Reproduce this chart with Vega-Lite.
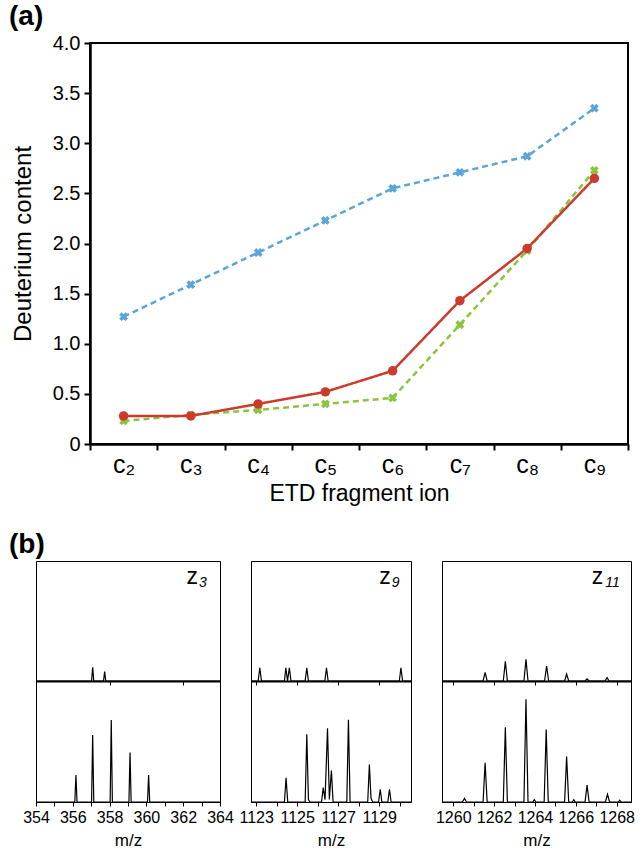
{
  "$schema": "https://vega.github.io/schema/vega-lite/v6.json",
  "padding": {"left": 8, "top": 2, "right": 5, "bottom": 5},
  "background": "white",
  "config": {
    "font": "Liberation Sans",
    "axis": {"grid": false, "labelColor": "black", "titleColor": "black", "domainColor": "black", "tickColor": "black", "labelFont": "Liberation Sans", "titleFont": "Liberation Sans", "titleFontWeight": "normal"},
    "title": {"font": "Liberation Sans", "color": "black"},
    "view": {"stroke": "black"}
  },
  "datasets": {
    "deut": [
      {"ion": "c₂", "series": "s1", "value": 1.27}, {"ion": "c₃", "series": "s1", "value": 1.59}, {"ion": "c₄", "series": "s1", "value": 1.91}, {"ion": "c₅", "series": "s1", "value": 2.23}, {"ion": "c₆", "series": "s1", "value": 2.55}, {"ion": "c₇", "series": "s1", "value": 2.71}, {"ion": "c₈", "series": "s1", "value": 2.87}, {"ion": "c₉", "series": "s1", "value": 3.35},
      {"ion": "c₂", "series": "s2", "value": 0.23}, {"ion": "c₃", "series": "s2", "value": 0.29}, {"ion": "c₄", "series": "s2", "value": 0.34}, {"ion": "c₅", "series": "s2", "value": 0.40}, {"ion": "c₆", "series": "s2", "value": 0.46}, {"ion": "c₇", "series": "s2", "value": 1.19}, {"ion": "c₈", "series": "s2", "value": 1.93}, {"ion": "c₉", "series": "s2", "value": 2.73},
      {"ion": "c₂", "series": "s3", "value": 0.28}, {"ion": "c₃", "series": "s3", "value": 0.28}, {"ion": "c₄", "series": "s3", "value": 0.40}, {"ion": "c₅", "series": "s3", "value": 0.52}, {"ion": "c₆", "series": "s3", "value": 0.73}, {"ion": "c₇", "series": "s3", "value": 1.43}, {"ion": "c₈", "series": "s3", "value": 1.95}, {"ion": "c₉", "series": "s3", "value": 2.65}
    ],
    "z3top": [
      {"mz": 354, "i": 0}, {"mz": 357.02, "i": 0}, {"mz": 357.08, "i": 0.114}, {"mz": 357.14, "i": 0}, {"mz": 357.67, "i": 0}, {"mz": 357.73, "i": 0.078}, {"mz": 357.79, "i": 0}, {"mz": 364, "i": 0}
    ],
    "z3bot": [
      {"mz": 354, "i": 0},
      {"mz": 356.11, "i": 0}, {"mz": 356.17, "i": 0.223}, {"mz": 356.23, "i": 0},
      {"mz": 357.02, "i": 0}, {"mz": 357.08, "i": 0.554}, {"mz": 357.14, "i": 0},
      {"mz": 358.03, "i": 0}, {"mz": 358.09, "i": 0.678}, {"mz": 358.15, "i": 0},
      {"mz": 359.05, "i": 0}, {"mz": 359.11, "i": 0.41}, {"mz": 359.17, "i": 0},
      {"mz": 360.06, "i": 0}, {"mz": 360.12, "i": 0.223}, {"mz": 360.18, "i": 0},
      {"mz": 364, "i": 0}
    ],
    "z9top": [
      {"mz": 1122.75, "i": 0},
      {"mz": 1123.1, "i": 0}, {"mz": 1123.18, "i": 0.11}, {"mz": 1123.26, "i": 0},
      {"mz": 1124.38, "i": 0}, {"mz": 1124.45, "i": 0.11}, {"mz": 1124.53, "i": 0}, {"mz": 1124.62, "i": 0.11}, {"mz": 1124.7, "i": 0},
      {"mz": 1125.39, "i": 0}, {"mz": 1125.47, "i": 0.11}, {"mz": 1125.55, "i": 0},
      {"mz": 1126.35, "i": 0}, {"mz": 1126.43, "i": 0.11}, {"mz": 1126.51, "i": 0},
      {"mz": 1129.98, "i": 0}, {"mz": 1130.06, "i": 0.11}, {"mz": 1130.14, "i": 0},
      {"mz": 1130.55, "i": 0}
    ],
    "z9bot": [
      {"mz": 1122.75, "i": 0},
      {"mz": 1124.38, "i": 0}, {"mz": 1124.46, "i": 0.2}, {"mz": 1124.54, "i": 0},
      {"mz": 1125.39, "i": 0}, {"mz": 1125.47, "i": 0.56}, {"mz": 1125.55, "i": 0.02}, {"mz": 1125.62, "i": 0},
      {"mz": 1126.19, "i": 0}, {"mz": 1126.27, "i": 0.12}, {"mz": 1126.36, "i": 0.02},
      {"mz": 1126.48, "i": 0.61}, {"mz": 1126.57, "i": 0.02}, {"mz": 1126.67, "i": 0.26}, {"mz": 1126.75, "i": 0},
      {"mz": 1127.42, "i": 0}, {"mz": 1127.5, "i": 0.68}, {"mz": 1127.58, "i": 0},
      {"mz": 1128.44, "i": 0}, {"mz": 1128.52, "i": 0.31}, {"mz": 1128.6, "i": 0.03}, {"mz": 1128.68, "i": 0},
      {"mz": 1128.97, "i": 0}, {"mz": 1129.05, "i": 0.105}, {"mz": 1129.13, "i": 0},
      {"mz": 1129.42, "i": 0}, {"mz": 1129.5, "i": 0.105}, {"mz": 1129.58, "i": 0},
      {"mz": 1130.55, "i": 0}
    ],
    "z11top": [
      {"mz": 1259.45, "i": 0},
      {"mz": 1261.46, "i": 0}, {"mz": 1261.56, "i": 0.072}, {"mz": 1261.66, "i": 0},
      {"mz": 1262.45, "i": 0}, {"mz": 1262.55, "i": 0.164}, {"mz": 1262.65, "i": 0},
      {"mz": 1263.46, "i": 0}, {"mz": 1263.56, "i": 0.18}, {"mz": 1263.66, "i": 0},
      {"mz": 1264.47, "i": 0}, {"mz": 1264.57, "i": 0.125}, {"mz": 1264.67, "i": 0},
      {"mz": 1265.45, "i": 0}, {"mz": 1265.55, "i": 0.058}, {"mz": 1265.65, "i": 0},
      {"mz": 1266.45, "i": 0}, {"mz": 1266.55, "i": 0.017}, {"mz": 1266.65, "i": 0},
      {"mz": 1267.43, "i": 0}, {"mz": 1267.53, "i": 0.028}, {"mz": 1267.63, "i": 0},
      {"mz": 1268.7, "i": 0}
    ],
    "z11bot": [
      {"mz": 1259.45, "i": 0},
      {"mz": 1260.45, "i": 0}, {"mz": 1260.55, "i": 0.03}, {"mz": 1260.65, "i": 0},
      {"mz": 1261.46, "i": 0}, {"mz": 1261.56, "i": 0.325}, {"mz": 1261.66, "i": 0},
      {"mz": 1262.45, "i": 0}, {"mz": 1262.55, "i": 0.617}, {"mz": 1262.65, "i": 0},
      {"mz": 1263.46, "i": 0}, {"mz": 1263.56, "i": 0.85}, {"mz": 1263.66, "i": 0},
      {"mz": 1263.9, "i": 0}, {"mz": 1263.97, "i": 0.02}, {"mz": 1264.04, "i": 0},
      {"mz": 1264.45, "i": 0}, {"mz": 1264.55, "i": 0.6}, {"mz": 1264.65, "i": 0},
      {"mz": 1265.45, "i": 0}, {"mz": 1265.55, "i": 0.375}, {"mz": 1265.65, "i": 0},
      {"mz": 1265.83, "i": 0}, {"mz": 1265.9, "i": 0.02}, {"mz": 1265.97, "i": 0},
      {"mz": 1266.45, "i": 0}, {"mz": 1266.55, "i": 0.14}, {"mz": 1266.65, "i": 0},
      {"mz": 1267.45, "i": 0}, {"mz": 1267.55, "i": 0.064}, {"mz": 1267.65, "i": 0},
      {"mz": 1268.08, "i": 0}, {"mz": 1268.15, "i": 0.015}, {"mz": 1268.22, "i": 0},
      {"mz": 1268.7, "i": 0}
    ]
  },
  "spacing": 24,
  "vconcat": [
    {
      "hconcat": [
        {
          "width": 54, "height": 401,
          "view": {"stroke": null},
          "data": {"values": []},
          "mark": "point",
          "encoding": {}
        },
        {
          "width": 538,
          "height": 401,
          "view": {"stroke": "black", "strokeWidth": 2},
          "title": {"text": "(a)", "anchor": "start", "frame": "group", "dx": -81, "fontSize": 28, "fontWeight": "bold", "offset": 2},
          "data": {"name": "deut"},
          "encoding": {
            "x": {"field": "ion", "type": "nominal", "sort": null,
                  "scale": {"type": "band", "paddingInner": 0, "paddingOuter": 0},
                  "axis": {"title": "ETD fragment ion", "labelAngle": 0, "labelFontSize": 25, "titleFontSize": 23, "tickBand": "extent", "tickSize": 6, "tickWidth": 2, "domainWidth": 2.5, "labelPadding": 2, "titlePadding": 5}},
            "y": {"field": "value", "type": "quantitative",
                  "scale": {"domain": [0, 4], "nice": false},
                  "axis": {"title": "Deuterium content", "values": [0, 0.5, 1, 1.5, 2, 2.5, 3, 3.5, 4], "labelExpr": "datum.value == 0 ? '0' : format(datum.value, '.1f')", "labelFontSize": 20, "titleFontSize": 24, "tickSize": 6, "tickWidth": 2, "domainWidth": 2.5, "labelPadding": 4, "titlePadding": 17}}
          },
          "layer": [
            {
              "mark": {"type": "line", "strokeWidth": 2.5},
              "encoding": {
                "color": {"field": "series", "type": "nominal", "scale": {"domain": ["s1", "s2", "s3"], "range": ["#5aa5db", "#8cc43f", "#cc3a2c"]}, "legend": null},
                "strokeDash": {"field": "series", "type": "nominal", "scale": {"domain": ["s1", "s2", "s3"], "range": [[6, 4], [6, 4], [1, 0]]}, "legend": null}
              }
            },
            {
              "transform": [{"filter": "datum.series != 's3'"}],
              "mark": {"type": "point", "shape": "cross", "angle": 45, "filled": true, "size": 80, "opacity": 1},
              "encoding": {
                "color": {"field": "series", "type": "nominal", "scale": {"domain": ["s1", "s2", "s3"], "range": ["#5aa5db", "#8cc43f", "#cc3a2c"]}, "legend": null}
              }
            },
            {
              "transform": [{"filter": "datum.series == 's3'"}],
              "mark": {"type": "circle", "size": 90, "opacity": 1, "color": "#cc3a2c"},
              "encoding": {}
            }
          ]
        }
      ],
      "spacing": 0,
      "bounds": "flush"
    },
    {
      "columns": 3,
      "align": "each",
      "bounds": "flush",
      "spacing": {"row": 0, "column": 31},
      "concat": [
        {
          "width": 184, "height": 120,
          "view": {"stroke": "black", "strokeWidth": 1},
          "title": {"text": "(b)", "anchor": "start", "frame": "group", "dx": -27, "fontSize": 28, "fontWeight": "bold", "offset": 2},
          "layer": [
            {
              "data": {"name": "z3top"},
              "mark": {"type": "line", "color": "black", "strokeWidth": 1.2},
              "encoding": {
                "x": {"field": "mz", "type": "quantitative", "scale": {"domain": [354, 364], "nice": false, "zero": false},
                      "axis": {"title": null, "labels": false, "values": [354, 355, 356, 357, 358, 359, 360, 361, 362, 363, 364], "tickSize": 4, "domainWidth": 2}},
                "y": {"field": "i", "type": "quantitative", "scale": {"domain": [0, 1], "nice": false}, "axis": null}
              }
            },
            {
              "data": {"values": [{"label": "z", "sub": "3"}]},
              "mark": {"type": "text", "align": "right", "baseline": "middle", "fontSize": 23, "color": "black"},
              "encoding": {"x": {"datum": 362.8, "type": "quantitative"}, "y": {"datum": 0.87, "type": "quantitative"}, "text": {"field": "label"}}
            },
            {
              "data": {"values": [{"label": "z", "sub": "3"}]},
              "mark": {"type": "text", "align": "left", "baseline": "middle", "fontSize": 14, "fontStyle": "italic", "dx": 1, "dy": 6, "color": "black"},
              "encoding": {"x": {"datum": 362.8, "type": "quantitative"}, "y": {"datum": 0.87, "type": "quantitative"}, "text": {"field": "sub"}}
            }
          ]
        },
        {
          "width": 160, "height": 120,
          "view": {"stroke": "black", "strokeWidth": 1},
          "layer": [
            {
              "data": {"name": "z9top"},
              "mark": {"type": "line", "color": "black", "strokeWidth": 1.2},
              "encoding": {
                "x": {"field": "mz", "type": "quantitative", "scale": {"domain": [1122.75, 1130.55], "nice": false, "zero": false},
                      "axis": {"title": null, "labels": false, "values": [1123, 1124, 1125, 1126, 1127, 1128, 1129, 1130], "tickSize": 4, "domainWidth": 2}},
                "y": {"field": "i", "type": "quantitative", "scale": {"domain": [0, 1], "nice": false}, "axis": null}
              }
            },
            {
              "data": {"values": [{"label": "z", "sub": "9"}]},
              "mark": {"type": "text", "align": "right", "baseline": "middle", "fontSize": 23, "color": "black"},
              "encoding": {"x": {"datum": 1129.56, "type": "quantitative"}, "y": {"datum": 0.87, "type": "quantitative"}, "text": {"field": "label"}}
            },
            {
              "data": {"values": [{"label": "z", "sub": "9"}]},
              "mark": {"type": "text", "align": "left", "baseline": "middle", "fontSize": 14, "fontStyle": "italic", "dx": 1, "dy": 6, "color": "black"},
              "encoding": {"x": {"datum": 1129.56, "type": "quantitative"}, "y": {"datum": 0.87, "type": "quantitative"}, "text": {"field": "sub"}}
            }
          ]
        },
        {
          "width": 189, "height": 120,
          "view": {"stroke": "black", "strokeWidth": 1},
          "layer": [
            {
              "data": {"name": "z11top"},
              "mark": {"type": "line", "color": "black", "strokeWidth": 1.2},
              "encoding": {
                "x": {"field": "mz", "type": "quantitative", "scale": {"domain": [1259.45, 1268.7], "nice": false, "zero": false},
                      "axis": {"title": null, "labels": false, "values": [1260, 1261, 1262, 1263, 1264, 1265, 1266, 1267, 1268], "tickSize": 4, "domainWidth": 2}},
                "y": {"field": "i", "type": "quantitative", "scale": {"domain": [0, 1], "nice": false}, "axis": null}
              }
            },
            {
              "data": {"values": [{"label": "z", "sub": "11"}]},
              "mark": {"type": "text", "align": "right", "baseline": "middle", "fontSize": 23, "color": "black"},
              "encoding": {"x": {"datum": 1267.34, "type": "quantitative"}, "y": {"datum": 0.87, "type": "quantitative"}, "text": {"field": "label"}}
            },
            {
              "data": {"values": [{"label": "z", "sub": "11"}]},
              "mark": {"type": "text", "align": "left", "baseline": "middle", "fontSize": 14, "fontStyle": "italic", "dx": 2, "dy": 6, "color": "black"},
              "encoding": {"x": {"datum": 1267.34, "type": "quantitative"}, "y": {"datum": 0.87, "type": "quantitative"}, "text": {"field": "sub"}}
            }
          ]
        },
        {
          "width": 184, "height": 121,
          "view": {"stroke": "black", "strokeWidth": 1},
          "data": {"name": "z3bot"},
          "mark": {"type": "line", "color": "black", "strokeWidth": 1.2},
          "encoding": {
            "x": {"field": "mz", "type": "quantitative", "scale": {"domain": [354, 364], "nice": false, "zero": false},
                  "axis": {"title": "m/z", "values": [354, 355, 356, 357, 358, 359, 360, 361, 362, 363, 364], "labelExpr": "datum.value % 2 == 0 ? datum.label : ''", "labelOverlap": false, "labelFlush": false, "labelBound": false, "labelFontSize": 16, "titleFontSize": 17, "tickSize": 4, "domainWidth": 1, "labelPadding": 3, "titlePadding": 7}},
            "y": {"field": "i", "type": "quantitative", "scale": {"domain": [0, 1], "nice": false}, "axis": null}
          }
        },
        {
          "width": 160, "height": 121,
          "view": {"stroke": "black", "strokeWidth": 1},
          "data": {"name": "z9bot"},
          "mark": {"type": "line", "color": "black", "strokeWidth": 1.2},
          "encoding": {
            "x": {"field": "mz", "type": "quantitative", "scale": {"domain": [1122.75, 1130.55], "nice": false, "zero": false},
                  "axis": {"title": "m/z", "values": [1123, 1124, 1125, 1126, 1127, 1128, 1129, 1130], "labelExpr": "datum.value % 2 == 1 ? datum.label : ''", "format": "d", "labelOverlap": false, "labelFlush": false, "labelBound": false, "labelFontSize": 16, "titleFontSize": 17, "tickSize": 4, "domainWidth": 1, "labelPadding": 3, "titlePadding": 7}},
            "y": {"field": "i", "type": "quantitative", "scale": {"domain": [0, 1], "nice": false}, "axis": null}
          }
        },
        {
          "width": 189, "height": 121,
          "view": {"stroke": "black", "strokeWidth": 1},
          "data": {"name": "z11bot"},
          "mark": {"type": "line", "color": "black", "strokeWidth": 1.2},
          "encoding": {
            "x": {"field": "mz", "type": "quantitative", "scale": {"domain": [1259.45, 1268.7], "nice": false, "zero": false},
                  "axis": {"title": "m/z", "values": [1260, 1261, 1262, 1263, 1264, 1265, 1266, 1267, 1268], "labelExpr": "datum.value % 2 == 0 ? datum.label : ''", "format": "d", "labelOverlap": false, "labelFlush": false, "labelBound": false, "labelFontSize": 16, "titleFontSize": 17, "tickSize": 4, "domainWidth": 1, "labelPadding": 3, "titlePadding": 7}},
            "y": {"field": "i", "type": "quantitative", "scale": {"domain": [0, 1], "nice": false}, "axis": null}
          }
        }
      ]
    }
  ]
}
